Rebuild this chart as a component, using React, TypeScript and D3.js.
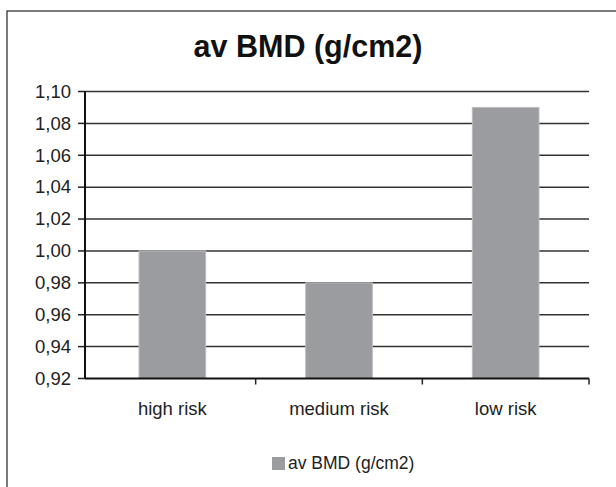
import React from "react";
import * as d3 from "d3";

const categories = ["high risk", "medium risk", "low risk"];
const values = [1.0, 0.98, 1.09];
const yTicks = [0.92, 0.94, 0.96, 0.98, 1.0, 1.02, 1.04, 1.06, 1.08, 1.1];
const title = "av BMD (g/cm2)";
const seriesName = "av BMD (g/cm2)";

export default function App() {
  const W = 616, H = 487;
  const axisX = 85, left = 89, right = 589, top = 91.5, bottom = 378.5;
  const x = d3.scaleBand<string>().domain(categories).range([left, right]).paddingInner(0.6).paddingOuter(0.3);
  const xCat = d3.scaleBand<string>().domain(categories).range([left, right]);
  const y = d3.scaleLinear().domain([0.92, 1.1]).range([bottom, top]);
  const fmt = (v: number) => v.toFixed(2).replace(".", ",");
  const font = "'Liberation Sans', Arial, sans-serif";
  return (
    <svg width={W} height={H} style={{ position: "absolute", left: 0, top: 0, background: "#fff" }}>
      <rect x={7} y={11} width={640} height={520} fill="#fff" stroke="#222" strokeWidth={1.2} />
      <text x={308} y={57} textAnchor="middle" fontFamily={font} fontWeight="bold" fontSize={30.5} fill="#111">{title}</text>
      {yTicks.map((t) => (
        <g key={t}>
          {t > 0.92 && <line x1={axisX} x2={right} y1={y(t)} y2={y(t)} stroke="#333" strokeWidth={1.5} />}
          <line x1={axisX - 7} x2={axisX} y1={y(t)} y2={y(t)} stroke="#222" strokeWidth={1.5} />
          <text x={71} y={y(t) + 6.3} textAnchor="end" fontFamily={font} fontSize={18.5} fill="#222">{fmt(t)}</text>
        </g>
      ))}
      {categories.map((c, i) => (
        <rect key={c} x={x(c)} y={y(values[i])} width={x.bandwidth()} height={bottom - y(values[i])} fill="#9b9c9f" stroke="#bdbdbd" strokeWidth={1} />
      ))}
      <line x1={axisX} x2={axisX} y1={top} y2={bottom} stroke="#111" strokeWidth={2} />
      <line x1={axisX} x2={right} y1={bottom} y2={bottom} stroke="#111" strokeWidth={2} />
      {categories.map((c) => (
        <line key={"t" + c} x1={(xCat(c) as number) + xCat.bandwidth()} x2={(xCat(c) as number) + xCat.bandwidth()} y1={bottom} y2={bottom + 6} stroke="#222" strokeWidth={1.5} />
      ))}
      {categories.map((c) => (
        <text key={"l" + c} x={(xCat(c) as number) + xCat.bandwidth() / 2} y={415} textAnchor="middle" fontFamily={font} fontSize={18.5} fill="#222">{c}</text>
      ))}
      <rect x={272} y={457} width={13} height={13} fill="#9b9c9f" />
      <text x={288} y={469} fontFamily={font} fontSize={17.5} fill="#222">{seriesName}</text>
    </svg>
  );
}
